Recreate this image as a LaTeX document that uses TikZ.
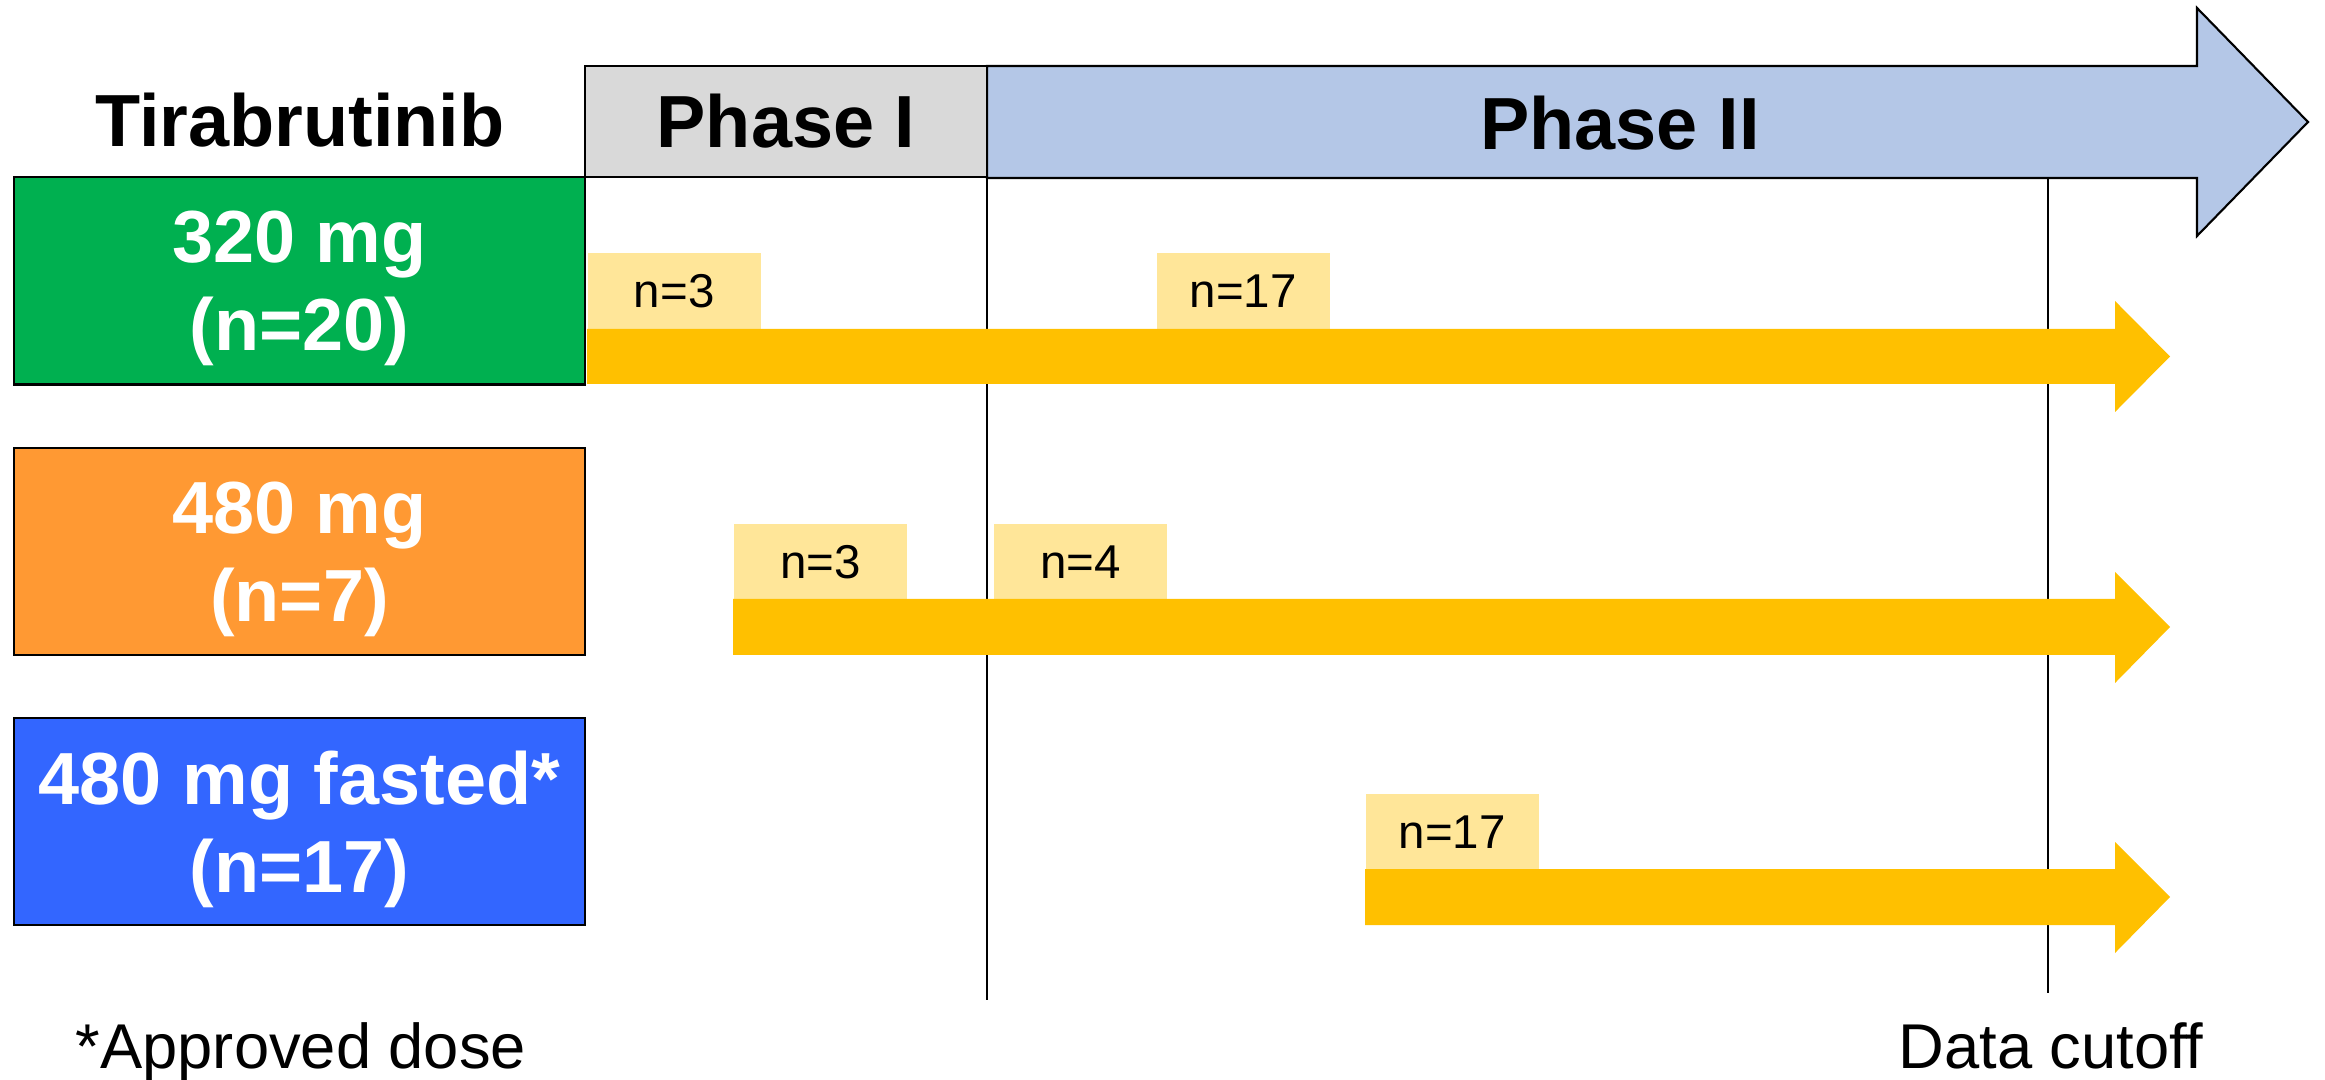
\documentclass[tikz,border=0pt]{standalone}
\usepackage{fontspec}
\setmainfont{Liberation Sans}
\definecolor{cgreen}{HTML}{00B050}
\definecolor{corange}{HTML}{FF9933}
\definecolor{cblue}{HTML}{3366FF}
\definecolor{cyellow}{HTML}{FFC000}
\definecolor{clabel}{HTML}{FFE699}
\definecolor{cgray}{HTML}{D9D9D9}
\definecolor{cphase}{HTML}{B4C7E7}
\begin{document}
\begin{tikzpicture}[x=0.01cm,y=-0.01cm,
  bigfont/.style={font={\fontsize{21}{25}\selectfont\bfseries}},
  dosebox/.style={draw=black, line width=0.6pt, minimum width=5.71cm, minimum height=2.07cm, inner sep=0pt, align=center, text=white, text depth=0pt, bigfont},
  nlabel/.style={fill=clabel, minimum width=1.73cm, minimum height=0.76cm, inner sep=0pt, anchor=north west, font={\fontsize{13.5}{16}\selectfont}},
  vline/.style={line width=0.5pt, black},
  yarrow/.style={fill=cyellow},
  foot/.style={font={\fontsize{18}{21}\selectfont}, anchor=base}]
\useasboundingbox (0,0) rectangle (2325,1080);
% Phase II arrow
\coordinate (p2s) at (987,66);
\filldraw[fill=cphase, draw=black, line width=0.6pt] (p2s) -- (2197,66) -- (2197,8) -- (2308,122) -- (2197,236) -- (2197,178) -- (987,178) -- cycle;
\node[bigfont, anchor=base] (p2) at (1620,150) {Phase II};
% Phase I box
\node[draw=black, line width=0.6pt, fill=cgray, minimum width=4.02cm, minimum height=1.11cm, inner sep=0pt] (p1box) at (786,121.5) {};
\node[bigfont, anchor=base] (p1) at (786,148) {Phase I};
% Title
\node[bigfont, anchor=base] (tira) at (300,147) {Tirabrutinib};
% vertical lines
\coordinate (l1t) at (987,178);
\coordinate (l1b) at (987,1000);
\coordinate (l2t) at (2048,178);
\coordinate (l2b) at (2048,993);
\draw[vline] (l1t) -- (l1b);
\draw[vline] (l2t) -- (l2b);
% dose boxes
\node[dosebox, fill=cgreen] (d1) at (299.5,281) {320 mg\\(n=20)};
\node[dosebox, fill=corange] (d2) at (299.5,551.5) {480 mg\\(n=7)};
\node[dosebox, fill=cblue] (d3) at (299.5,821.5) {480 mg fasted*\\(n=17)};
% labels
\node[nlabel] (a1) at (587,252) {n=3};
\node[nlabel] (a2) at (1156,252) {n=17};
\node[nlabel] (b1) at (733,523) {n=3};
\node[nlabel] (b2) at (993,523) {n=4};
\node[nlabel] (c1) at (1365,793) {n=17};
% yellow arrows
\fill[yarrow] (587,329) -- (2115,329) -- (2115,301) -- (2170,356.5) -- (2115,412) -- (2115,384) -- (587,384) -- cycle;
\fill[yarrow] (733,599) -- (2115,599) -- (2115,572) -- (2170,627) -- (2115,683) -- (2115,655) -- (733,655) -- cycle;
\fill[yarrow] (1365,869) -- (2115,869) -- (2115,842) -- (2170,897) -- (2115,953) -- (2115,925) -- (1365,925) -- cycle;
% footnotes
\node[foot, anchor=base west, inner sep=0pt] (appr) at (75,1068) {*Approved dose};
\node[foot, inner sep=0pt] (cut) at (2051,1068) {Data cutoff};
\end{tikzpicture}
\end{document}
